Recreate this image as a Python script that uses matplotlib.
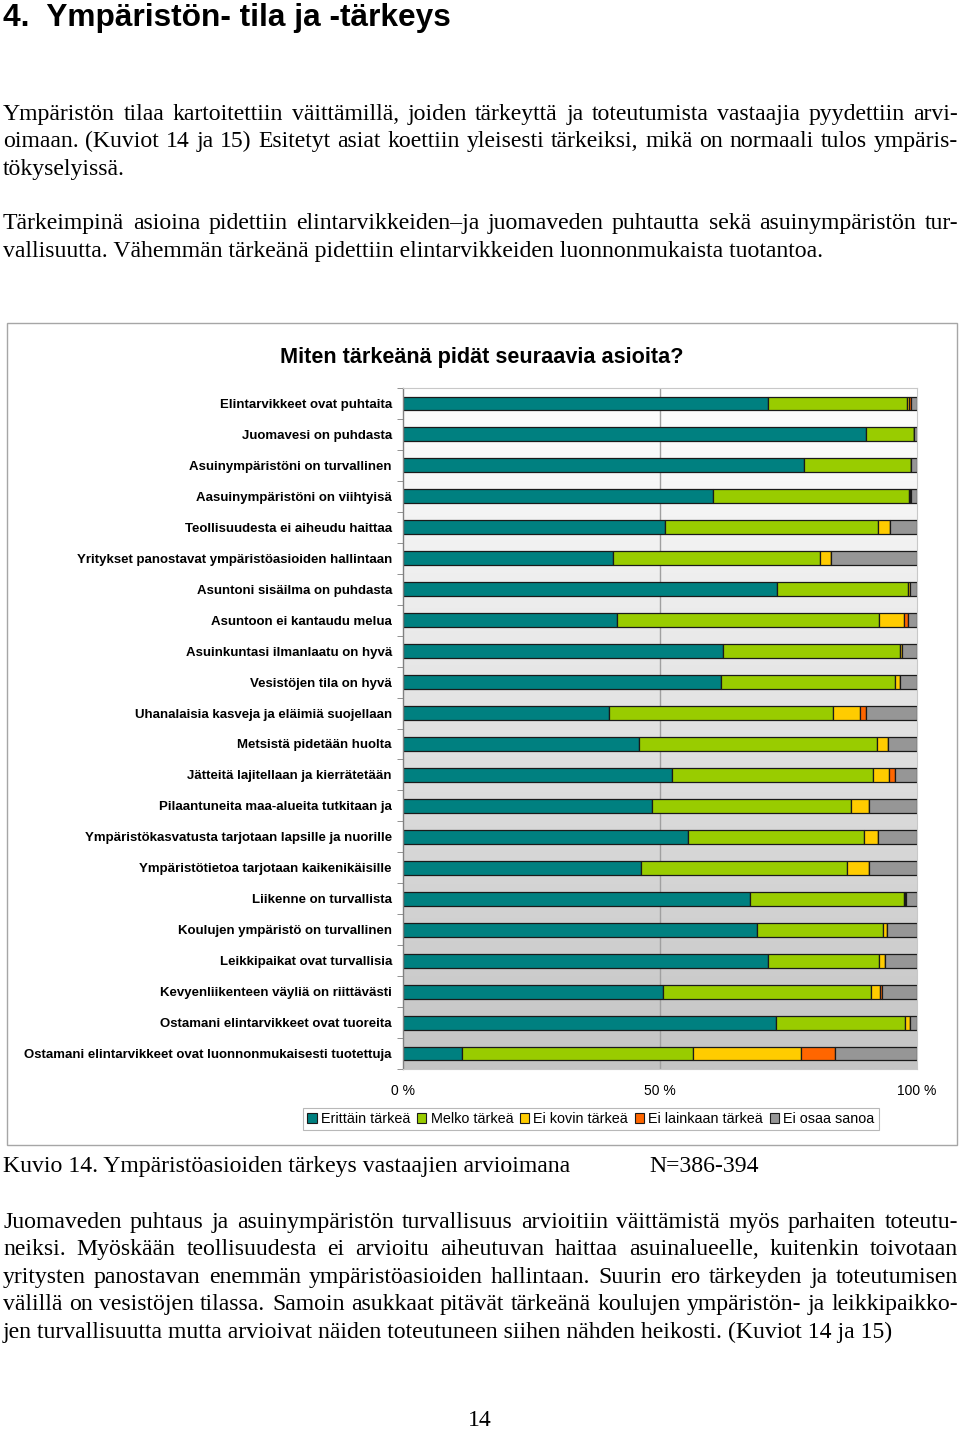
import matplotlib
matplotlib.use("Agg")
import matplotlib.pyplot as plt
import numpy as np
from matplotlib.patches import Patch, Rectangle
from matplotlib.colors import LinearSegmentedColormap

W, H = 960, 1429
DPI = 100

categories = [
    "Elintarvikkeet ovat puhtaita",
    "Juomavesi on puhdasta",
    "Asuinympäristöni on turvallinen",
    "Aasuinympäristöni on viihtyisä",
    "Teollisuudesta ei aiheudu haittaa",
    "Yritykset panostavat ympäristöasioiden hallintaan",
    "Asuntoni sisäilma on puhdasta",
    "Asuntoon ei kantaudu melua",
    "Asuinkuntasi ilmanlaatu on hyvä",
    "Vesistöjen tila on hyvä",
    "Uhanalaisia kasveja ja eläimiä suojellaan",
    "Metsistä pidetään huolta",
    "Jätteitä lajitellaan ja kierrätetään",
    "Pilaantuneita maa-alueita tutkitaan ja",
    "Ympäristökasvatusta tarjotaan lapsille ja nuorille",
    "Ympäristötietoa tarjotaan kaikenikäisille",
    "Liikenne on turvallista",
    "Koulujen ympäristö on turvallinen",
    "Leikkipaikat ovat turvallisia",
    "Kevyenliikenteen väyliä on riittävästi",
    "Ostamani elintarvikkeet ovat tuoreita",
    "Ostamani elintarvikkeet ovat luonnonmukaisesti tuotettuja",
]

erittain = [71.1, 90.0, 78.1, 60.4, 51.0, 40.9, 72.7, 41.7, 62.2, 61.8, 40.0,
            45.9, 52.4, 48.4, 55.5, 46.3, 67.6, 68.8, 71.1, 50.5, 72.5, 11.4]
melko = [26.9, 9.5, 20.8, 38.0, 41.4, 40.2, 25.5, 51.0, 34.4, 34.0, 43.7,
         46.3, 39.1, 38.8, 34.1, 40.0, 29.8, 24.5, 21.6, 40.5, 25.1, 45.1]
ei_kovin = [0.5, 0.0, 0.0, 0.2, 2.3, 2.2, 0.5, 4.7, 0.5, 0.8, 5.2,
            2.1, 3.1, 3.4, 2.9, 4.3, 0.2, 0.8, 1.0, 1.8, 1.0, 20.9]
ei_lainkaan = [0.3, 0.0, 0.0, 0.2, 0.0, 0.0, 0.0, 0.8, 0.0, 0.0, 1.1,
               0.0, 1.2, 0.0, 0.0, 0.0, 0.2, 0.0, 0.0, 0.3, 0.0, 6.7]
ei_osaa = [1.2, 0.5, 1.1, 1.2, 5.3, 16.7, 1.3, 1.8, 2.9, 3.4, 10.0,
           5.7, 4.2, 9.4, 7.5, 9.4, 2.2, 5.9, 6.3, 6.9, 1.4, 15.9]

series_names = ["Erittäin tärkeä", "Melko tärkeä", "Ei kovin tärkeä",
                "Ei lainkaan tärkeä", "Ei osaa sanoa"]
series_colors = ["#008080", "#99CC00", "#FFCC00", "#FF6600", "#969696"]
x_ticks = [0, 50, 100]
x_ticklabels = ["0 %", "50 %", "100 %"]

plt.rcParams["font.family"] = ["Liberation Sans", "DejaVu Sans"]

fig = plt.figure(figsize=(W / DPI, H / DPI), dpi=DPI)
fig.patch.set_facecolor("white")


def fx(px):
    return px / W


def fy(py):
    return 1 - py / H


SERIF = ["Liberation Serif", "DejaVu Serif"]
BODY_FS = 17.1
BASE_OFF = 7  # pixels from visual line centre down to the baseline

renderer = fig.canvas.get_renderer()


def justified(text, ypix, x0=3, x1=958, fs=BODY_FS):
    words = text.split(" ")
    objs = []
    widths = []
    for w in words:
        t = fig.text(0, fy(ypix + BASE_OFF), w, fontsize=fs, family=SERIF,
                     va="baseline", ha="left")
        bb = t.get_window_extent(renderer=renderer)
        objs.append(t)
        widths.append(bb.width)
    gap = (x1 - x0 - sum(widths)) / max(len(words) - 1, 1)
    x = x0
    for t, wd in zip(objs, widths):
        t.set_x(fx(x))
        x += wd + gap


def plain(text, ypix, x0=3, fs=BODY_FS):
    fig.text(fx(x0), fy(ypix + BASE_OFF), text, fontsize=fs, family=SERIF,
             va="baseline", ha="left")


# Heading
fig.text(fx(3), fy(18), "4.  Ympäristön- tila ja -tärkeys", fontsize=22.8, fontweight="bold",
         va="center", ha="left")

justified("Ympäristön tilaa kartoitettiin väittämillä, joiden tärkeyttä ja toteutumista vastaajia pyydettiin arvi-", 113)
justified("oimaan. (Kuviot 14 ja 15) Esitetyt asiat koettiin yleisesti tärkeiksi, mikä on normaali tulos ympäris-", 140)
plain("tökyselyissä.", 168)
justified("Tärkeimpinä asioina pidettiin elintarvikkeiden–ja juomaveden puhtautta sekä asuinympäristön tur-", 222)
plain("vallisuutta. Vähemmän tärkeänä pidettiin elintarvikkeiden luonnonmukaista tuotantoa.", 250)

# Chart frame
fig.patches.append(Rectangle((fx(7), fy(1145)), fx(957) - fx(7), fy(323) - fy(1145),
                             transform=fig.transFigure, fill=False, edgecolor="#a6a6a6",
                             linewidth=1.0, zorder=0))
fig.text(fx(482), fy(357), "Miten tärkeänä pidät seuraavia asioita?", fontsize=15.6,
         fontweight="bold", ha="center", va="center")

ax = fig.add_axes([fx(403), fy(1069), fx(917) - fx(403), fy(388) - fy(1069)])
n = len(categories)
y = np.arange(n)

grad = np.linspace(0, 1, 256).reshape(-1, 1)
cmap = LinearSegmentedColormap.from_list("bg", ["#ffffff", "#c4c4c4"])
ax.imshow(grad, extent=(0, 100, n - 0.5, -0.5), aspect="auto", cmap=cmap, zorder=0,
          interpolation="bilinear")
ax.axvline(50, color="#a0a0a0", linewidth=1.0, zorder=1)

data = [erittain, melko, ei_kovin, ei_lainkaan, ei_osaa]
left = np.zeros(n)
for vals, col, name in zip(data, series_colors, series_names):
    v = np.array(vals)
    ax.barh(y, v, left=left, height=0.45, color=col, edgecolor="#1a1a1a", linewidth=0.9,
            zorder=2, label=name)
    left += v

ax.set_xlim(0, 100)
ax.set_ylim(n - 0.5, -0.5)
ax.set_yticks(y)
ax.set_yticklabels(categories, fontsize=9.55, fontweight="bold")
ax.set_yticks(np.arange(n + 1) - 0.5, minor=True)
ax.tick_params(axis="y", which="major", length=0, pad=8)
ax.tick_params(axis="y", which="minor", length=4, color="#808080", direction="out")
ax.set_xticks(x_ticks)
ax.set_xticklabels(x_ticklabels, fontsize=10)
ax.tick_params(axis="x", length=0, pad=11)
for s in ["top", "right", "bottom"]:
    ax.spines[s].set_color("#c8c8c8")
    ax.spines[s].set_linewidth(0.8)
ax.spines["left"].set_color("#808080")
ax.spines["left"].set_linewidth(1.0)

handles = [Patch(facecolor=c, edgecolor="#1a1a1a", linewidth=0.8) for c in series_colors]
leg = fig.legend(handles, series_names, loc="center", bbox_to_anchor=(fx(591), fy(1119)),
                 ncol=5, fontsize=10.4, frameon=True, fancybox=False, edgecolor="#a6a6a6",
                 handlelength=0.65, handleheight=0.65, handletextpad=0.3, columnspacing=0.45,
                 borderpad=0.3, borderaxespad=0)
leg.get_frame().set_linewidth(0.8)

# Caption
plain("Kuvio 14. Ympäristöasioiden tärkeys vastaajien arvioimana", 1165)
plain("N=386-394", 1165, x0=649)

justified("Juomaveden puhtaus ja asuinympäristön turvallisuus arvioitiin väittämistä myös parhaiten toteutu-", 1221)
justified("neiksi. Myöskään teollisuudesta ei arvioitu aiheutuvan haittaa asuinalueelle, kuitenkin toivotaan", 1248)
justified("yritysten panostavan enemmän ympäristöasioiden hallintaan. Suurin ero tärkeyden ja toteutumisen", 1276)
justified("välillä on vesistöjen tilassa. Samoin asukkaat pitävät tärkeänä koulujen ympäristön- ja leikkipaikko-", 1303)
plain("jen turvallisuutta mutta arvioivat näiden toteutuneen siihen nähden heikosti. (Kuviot 14 ja 15)", 1331)

fig.text(fx(480), fy(1419 + BASE_OFF), "14", fontsize=BODY_FS, family=SERIF, ha="center",
         va="baseline")

fig.savefig("out.png", dpi=DPI, facecolor="white")
